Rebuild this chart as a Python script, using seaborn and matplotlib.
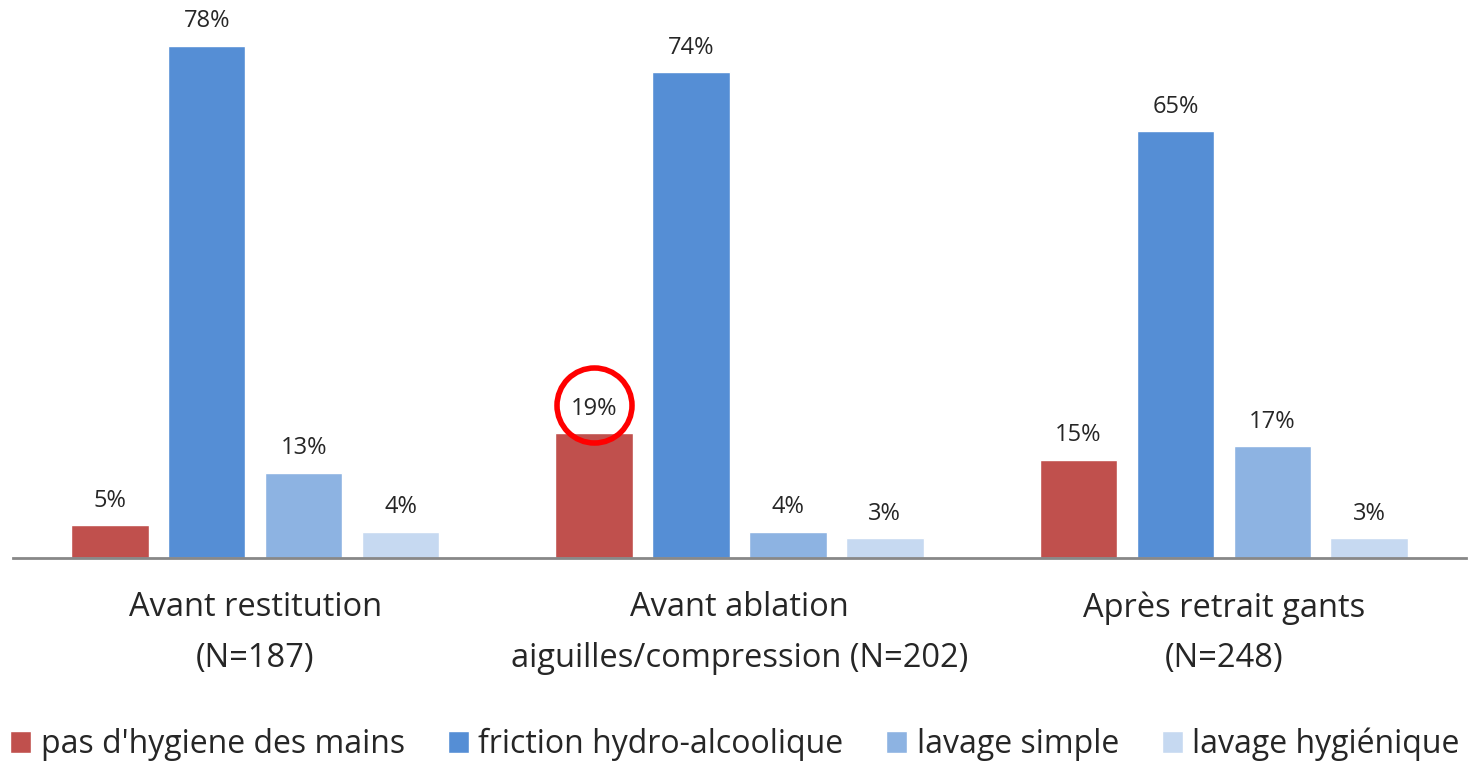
import pandas as pd
import numpy as np
import matplotlib.pyplot as plt
import seaborn as sns

categories = ['Avant restitution\n(N=187)',
              'Avant ablation\naiguilles/compression (N=202)',
              'Après retrait gants\n(N=248)']
series = ["pas d'hygiene des mains", 'friction hydro-alcoolique',
          'lavage simple', 'lavage hygiénique']
pas_hygiene = [5, 19, 15]
friction = [78, 74, 65]
lavage_simple = [13, 4, 17]
lavage_hyg = [4, 3, 3]
colors = ['#C0504D', '#558ED5', '#8DB3E2', '#C6D9F1']

rows = []
for name, vals in zip(series, [pas_hygiene, friction, lavage_simple, lavage_hyg]):
    for c, v in zip(categories, vals):
        rows.append({'cat': c, 'serie': name, 'val': v})
df = pd.DataFrame(rows)

sns.set_style('white')
plt.rcParams['font.family'] = ['Open Sans', 'DejaVu Sans']

fig = plt.figure(figsize=(14.7, 7.67), dpi=100)
ax = fig.add_axes([13 / 1470, 1 - 558 / 767, 1 - 13 / 1470 - 4 / 1470, 558 / 767])

sns.barplot(data=df, x='cat', y='val', hue='serie', palette=colors,
            saturation=1, width=0.8, gap=0.2, ax=ax, legend=True)

for cont in ax.containers:
    ax.bar_label(cont, fmt='%d%%', padding=9, fontsize=17)

ax.set_xlim(-0.5, 2.5)
ax.set_ylim(0, 85)
ax.set_xlabel('')
ax.set_ylabel('')
ax.set_yticks([])
ax.tick_params(axis='x', length=0, pad=24, labelsize=23.5)
for lab in ax.get_xticklabels():
    lab.set_linespacing(1.7)
for s in ['top', 'right', 'left']:
    ax.spines[s].set_visible(False)
ax.spines['bottom'].set_color('#888888')
ax.spines['bottom'].set_linewidth(2)

# red circle around the 19% label
bar19 = ax.containers[0][1]
cx = bar19.get_x() + bar19.get_width() / 2
ax.plot([cx], [23.3], marker='o', markersize=54, mfc='none', mec='#FF0000', mew=4,
        clip_on=False)

handles, labels = ax.get_legend_handles_labels()
ax.get_legend().remove()
fig.legend(handles, labels, loc='lower center', bbox_to_anchor=(0.5, -0.03),
           ncol=4, frameon=False, fontsize=23, handlelength=0.65,
           handleheight=0.65, handletextpad=0.3, columnspacing=1.35)

fig.savefig('out.png', dpi=100)
